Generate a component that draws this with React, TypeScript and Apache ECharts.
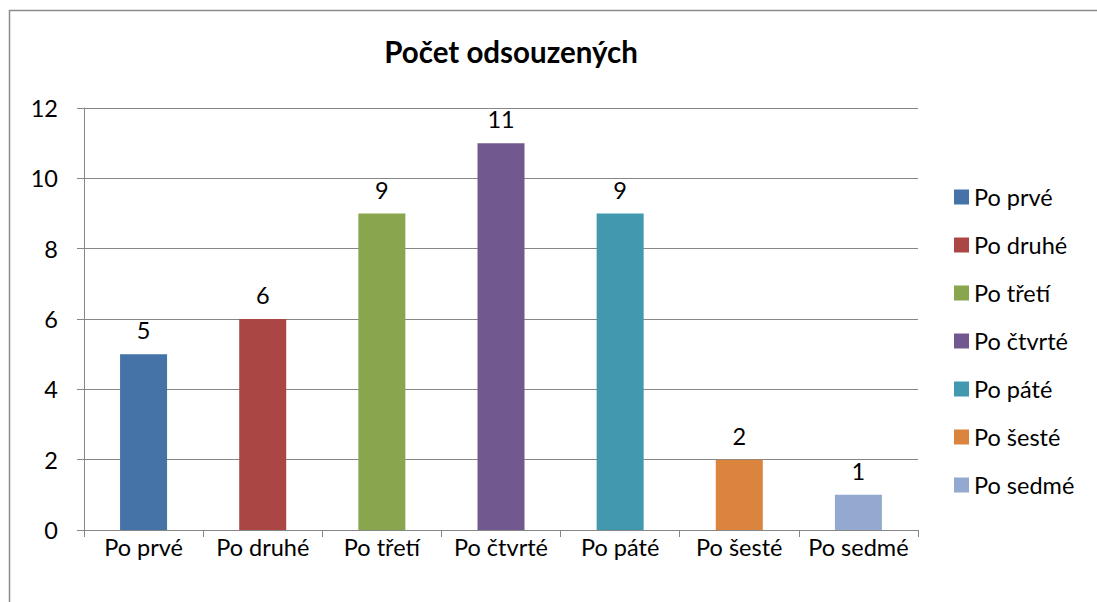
import React, { useEffect, useRef } from "react";
import * as echarts from "echarts";

const title = "Počet odsouzených";
const categories = ["Po prvé", "Po druhé", "Po třetí", "Po čtvrté", "Po páté", "Po šesté", "Po sedmé"];
const values = [5, 6, 9, 11, 9, 2, 1];
const colors = ["#4572A7", "#AA4643", "#89A54E", "#71588F", "#4198AF", "#DB843D", "#93A9CF"];
const yTicks = { min: 0, max: 12, interval: 2 };

const FONT = "Lato";
const FS = 23.5;

export default function App() {
  const ref = useRef<HTMLDivElement>(null);
  useEffect(() => {
    if (!ref.current) return;
    const chart = echarts.init(ref.current, undefined, { renderer: "svg" });
    const series = categories.map((name, i) => ({
      name,
      type: "bar",
      stack: "all",
      barWidth: 47,
      itemStyle: { color: colors[i] },
      data: categories.map((_, j) => (j === i ? values[i] : "-")),
      label: {
        show: true,
        position: "top",
        distance: 12,
        color: "#000",
        fontFamily: FONT,
        fontSize: FS,
      },
    }));
    chart.setOption({
      animation: false,
      backgroundColor: "#fff",
      title: {
        text: title,
        left: 506,
        textAlign: "center",
        top: 31,
        textStyle: { fontFamily: FONT, fontSize: 29.5, fontWeight: "bold", color: "#000" },
      },
      graphic: [
        {
          type: "rect",
          shape: { x: 9.5, y: 10.5, width: 1200, height: 700 },
          style: { fill: "none", stroke: "#8c8c8c", lineWidth: 1.5 },
          silent: true,
        },
      ],
      legend: {
        orient: "vertical",
        left: 954,
        top: 185,
        padding: 0,
        itemWidth: 15,
        itemHeight: 15,
        itemGap: 24,
        icon: "rect",
        data: categories,
        textStyle: { fontFamily: FONT, fontSize: FS, color: "#000" },
      },
      grid: { left: 84, right: 179, top: 108, bottom: 72, containLabel: false },
      xAxis: {
        type: "category",
        data: categories,
        axisLine: { lineStyle: { color: "#868686", width: 1 } },
        axisTick: { show: true, inside: false, length: 7, lineStyle: { color: "#868686", width: 1 } },
        axisLabel: { color: "#000", fontFamily: FONT, fontSize: FS, margin: 5, interval: 0 },
      },
      yAxis: {
        type: "value",
        min: yTicks.min,
        max: yTicks.max,
        interval: yTicks.interval,
        axisLine: { show: true, lineStyle: { color: "#868686", width: 1 } },
        axisTick: { show: true, inside: false, length: 7, lineStyle: { color: "#868686", width: 1 } },
        splitLine: { lineStyle: { color: "#868686", width: 1 } },
        axisLabel: { color: "#000", fontFamily: FONT, fontSize: FS, margin: 26 },
      },
      series,
    });
    return () => chart.dispose();
  }, []);
  return (
    <div
      ref={ref}
      style={{ position: "fixed", left: 0, top: 0, width: 1097, height: 602, background: "#fff" }}
    />
  );
}
